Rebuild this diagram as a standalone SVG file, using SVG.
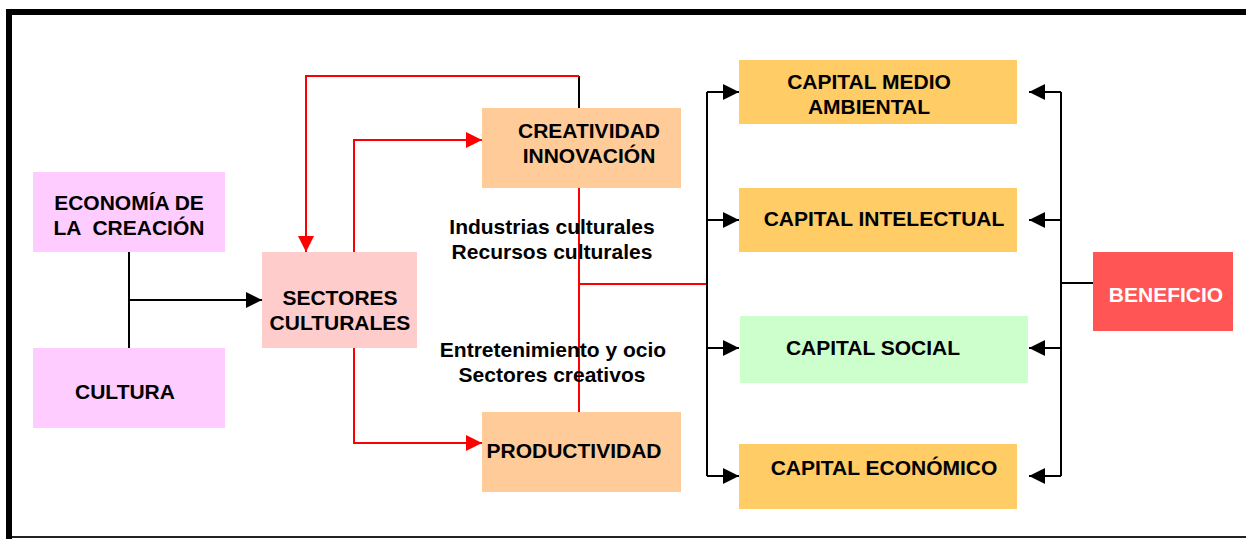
<svg xmlns="http://www.w3.org/2000/svg" width="1246" height="539" viewBox="0 0 1246 539">
<defs>
<marker id="ab" markerUnits="userSpaceOnUse" markerWidth="16" markerHeight="16" viewBox="0 0 14 14" refX="14" refY="7" orient="auto"><path d="M0,0 L14,7 L0,14 Z" fill="#000"/></marker>
<marker id="ar" markerUnits="userSpaceOnUse" markerWidth="16" markerHeight="16" viewBox="0 0 14 14" refX="14" refY="7" orient="auto"><path d="M0,0 L14,7 L0,14 Z" fill="#FF0000"/></marker>
</defs>
<style>
text{font-family:"Liberation Sans",Arial,sans-serif;font-weight:bold;font-size:21px;fill:#000;text-anchor:middle;white-space:pre}
.k{stroke:#000;stroke-width:2;fill:none}
.r{stroke:#FF0000;stroke-width:2;fill:none}
</style>
<rect width="1246" height="539" fill="#fff"/>
<g id="frame">
<path d="M9 539 V12 H1246" stroke="#000" stroke-width="6" fill="none"/>
<path d="M12 537 H1246" stroke="#222" stroke-width="2"/>
</g>
<g id="connectors">
<path class="k" d="M129 252 V348"/>
<path class="k" d="M129 300 H262" marker-end="url(#ab)"/>
<path class="k" d="M579 108 V76"/>
<path class="r" d="M579 76 H306 V252" marker-end="url(#ar)"/>
<path class="r" d="M354 252 V140 H482" marker-end="url(#ar)"/>
<path class="r" d="M354 348 V443 H482" marker-end="url(#ar)"/>
<path class="r" d="M579 188 V412"/>
<path class="r" d="M579 284 H707"/>
<path class="k" d="M707 92 V476"/>
<path class="k" d="M707 92 H739" marker-end="url(#ab)"/>
<path class="k" d="M707 220 H739" marker-end="url(#ab)"/>
<path class="k" d="M707 348 H739" marker-end="url(#ab)"/>
<path class="k" d="M707 476 H739" marker-end="url(#ab)"/>
<path class="k" d="M1061 92 V476"/>
<path class="k" d="M1061 92 H1029" marker-end="url(#ab)"/>
<path class="k" d="M1061 220 H1029" marker-end="url(#ab)"/>
<path class="k" d="M1061 348 H1029" marker-end="url(#ab)"/>
<path class="k" d="M1061 476 H1029" marker-end="url(#ab)"/>
<path class="k" d="M1093 283 H1061"/>
</g>
<g id="economia">
<rect x="33" y="172" width="192" height="80" fill="#FFCCFF"/>
<text x="129" y="210">ECONOMÍA DE</text>
<text x="129" y="235">LA  CREACIÓN</text>
</g>
<g id="cultura">
<rect x="33" y="348" width="192" height="80" fill="#FFCCFF"/>
<text x="125" y="399">CULTURA</text>
</g>
<g id="sectores">
<rect x="262" y="252" width="155" height="96" fill="#FFCCCC"/>
<text x="340" y="305">SECTORES</text>
<text x="340" y="330">CULTURALES</text>
</g>
<g id="creatividad">
<rect x="482" y="108" width="199" height="80" fill="#FFCC99"/>
<text x="589" y="138">CREATIVIDAD</text>
<text x="589" y="163">INNOVACIÓN</text>
</g>
<g id="productividad">
<rect x="482" y="412" width="199" height="80" fill="#FFCC99"/>
<text x="574" y="458">PRODUCTIVIDAD</text>
</g>
<g id="labels">
<text x="552" y="234">Industrias culturales</text>
<text x="552" y="259">Recursos culturales</text>
<text x="553" y="357">Entretenimiento y ocio</text>
<text x="552" y="382">Sectores creativos</text>
</g>
<g id="medioambiental">
<rect x="739" y="60" width="278" height="64" fill="#FFCC66"/>
<text x="869" y="89">CAPITAL MEDIO</text>
<text x="869" y="114">AMBIENTAL</text>
</g>
<g id="intelectual">
<rect x="739" y="188" width="278" height="64" fill="#FFCC66"/>
<text x="884" y="226">CAPITAL INTELECTUAL</text>
</g>
<g id="social">
<rect x="740" y="316" width="288" height="67" fill="#CCFFCC"/>
<text x="873" y="355">CAPITAL SOCIAL</text>
</g>
<g id="economico">
<rect x="739" y="444" width="278" height="65" fill="#FFCC66"/>
<text x="884" y="475">CAPITAL ECONÓMICO</text>
</g>
<g id="beneficio">
<rect x="1093" y="252" width="140" height="79" fill="#FF5555"/>
<text x="1166" y="302" style="fill:#fff">BENEFICIO</text>
</g>
</svg>
